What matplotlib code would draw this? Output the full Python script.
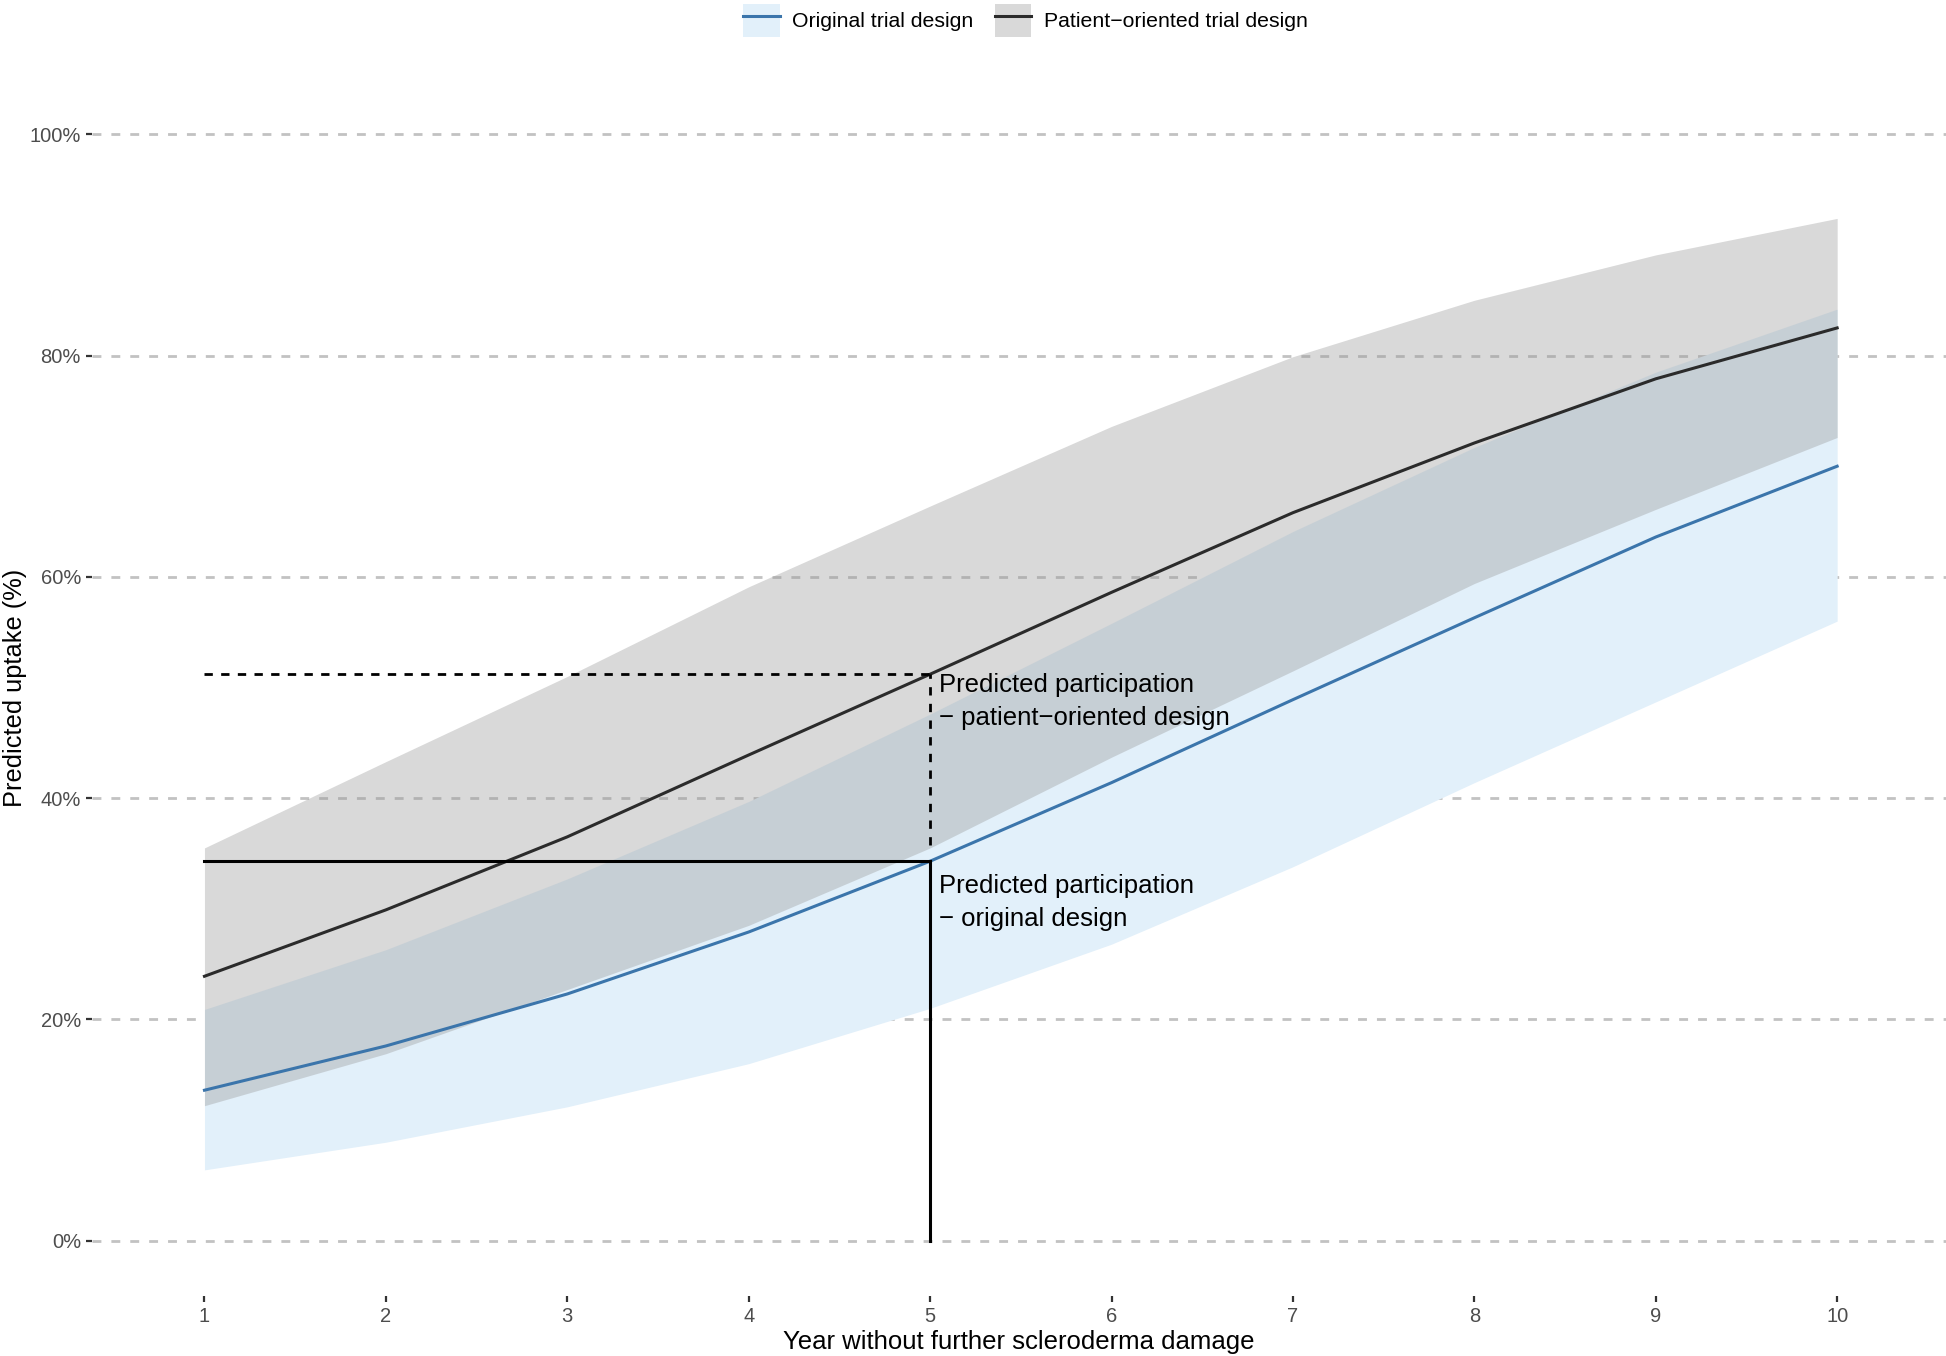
import matplotlib

matplotlib.use("Agg")
import matplotlib.pyplot as plt
from matplotlib.lines import Line2D
from matplotlib.patches import Patch

plt.rcParams["font.family"] = ["Liberation Sans", "DejaVu Sans"]

# ---- data ----
years = [1, 2, 3, 4, 5, 6, 7, 8, 9, 10]
orig_mid = [13.6, 17.6, 22.3, 27.9, 34.3, 41.4, 48.9, 56.3, 63.6, 70.0]
orig_lo = [6.4, 8.9, 12.1, 16.0, 21.0, 26.8, 33.8, 41.4, 48.7, 56.0]
orig_hi = [20.9, 26.3, 32.7, 39.7, 47.6, 55.8, 64.1, 71.7, 78.5, 84.2]
pat_mid = [23.9, 29.9, 36.5, 43.9, 51.2, 58.6, 65.8, 72.1, 77.9, 82.5]
pat_lo = [12.2, 16.9, 22.7, 28.5, 35.5, 43.7, 51.5, 59.4, 66.1, 72.6]
pat_hi = [35.5, 43.3, 51.0, 59.1, 66.4, 73.6, 79.9, 85.0, 89.1, 92.4]

yticks = [0, 20, 40, 60, 80, 100]
ytick_labels = ["0%", "20%", "40%", "60%", "80%", "100%"]
ref_year = 5
ref_orig = 34.3
ref_pat = 51.2

BLUE = "#3b75ab"
BLUE_FILL = "#e2f0fa"
DARK = "#2b2b2b"
GREY_FILL = "#989898"
GREY_ALPHA = 0.37

fig = plt.figure(figsize=(19.46, 13.56), dpi=100)
ax = fig.add_axes([92 / 1946, 1 - 1296 / 1356, 1 - 92 / 1946, (1296 - 79) / 1356])

for y in yticks:
    ax.axhline(y, color="#c2c2c2", lw=2, ls=(0, (3.2, 3.6)), zorder=0)

ax.fill_between(years, orig_lo, orig_hi, color=BLUE_FILL, lw=0, zorder=1)
ax.fill_between(years, pat_lo, pat_hi, color=GREY_FILL, alpha=GREY_ALPHA, lw=0, zorder=2)

ax.plot(years, orig_mid, color=BLUE, lw=2.2, zorder=3)
ax.plot(years, pat_mid, color=DARK, lw=2.2, zorder=3)

# reference lines at year 5
ax.plot([years[0], ref_year], [ref_orig, ref_orig], color="black", lw=2.2, zorder=4)
ax.plot([ref_year, ref_year], [0, ref_orig], color="black", lw=2.2, zorder=4)
ax.plot([years[0], ref_year], [ref_pat, ref_pat], color="black", lw=2.0,
        ls=(0, (3, 3)), zorder=4)
ax.plot([ref_year, ref_year], [ref_orig + 1.5, ref_pat], color="black", lw=2.0,
        ls=(0, (3, 3)), zorder=4)

ax.text(ref_year + 0.05, ref_pat + 0.1, "Predicted participation\n\u2212 patient\u2212oriented design",
        fontsize=18.5, va="top", ha="left", linespacing=1.45, zorder=5)
ax.text(ref_year + 0.05, ref_orig - 1.2, "Predicted participation\n\u2212 original design",
        fontsize=18.5, va="top", ha="left", linespacing=1.45, zorder=5)

ax.set_xlim(0.38, 10.6)
ax.set_ylim(-5, 105)
ax.set_xticks(years, [str(y) for y in years])
ax.set_yticks(yticks, ytick_labels)
for s in ax.spines.values():
    s.set_visible(False)
ax.tick_params(axis="both", length=4, width=1.6, color="#333333",
               labelsize=14.5, labelcolor="#4d4d4d", pad=4)
ax.set_xlabel("Year without further scleroderma damage", fontsize=18.5, labelpad=3)
ax.set_ylabel("Predicted uptake (%)", fontsize=18.3, va="center")
ax.yaxis.set_label_coords(-0.0418, 0.5)

h1 = (Patch(facecolor=BLUE_FILL, edgecolor="none"), Line2D([], [], color=BLUE, lw=2.2))
h2 = (Patch(facecolor="#d9d9d9", edgecolor="none"), Line2D([], [], color=DARK, lw=2.2))
fig.legend([h1, h2], ["Original trial design", "Patient\u2212oriented trial design"],
           loc="center", bbox_to_anchor=(0.527, 0.985), ncol=2, frameon=False,
           fontsize=15.3, handlelength=1.7, handleheight=2.0, columnspacing=1.0,
           handletextpad=0.6)

fig.savefig("out.png", dpi=100)
